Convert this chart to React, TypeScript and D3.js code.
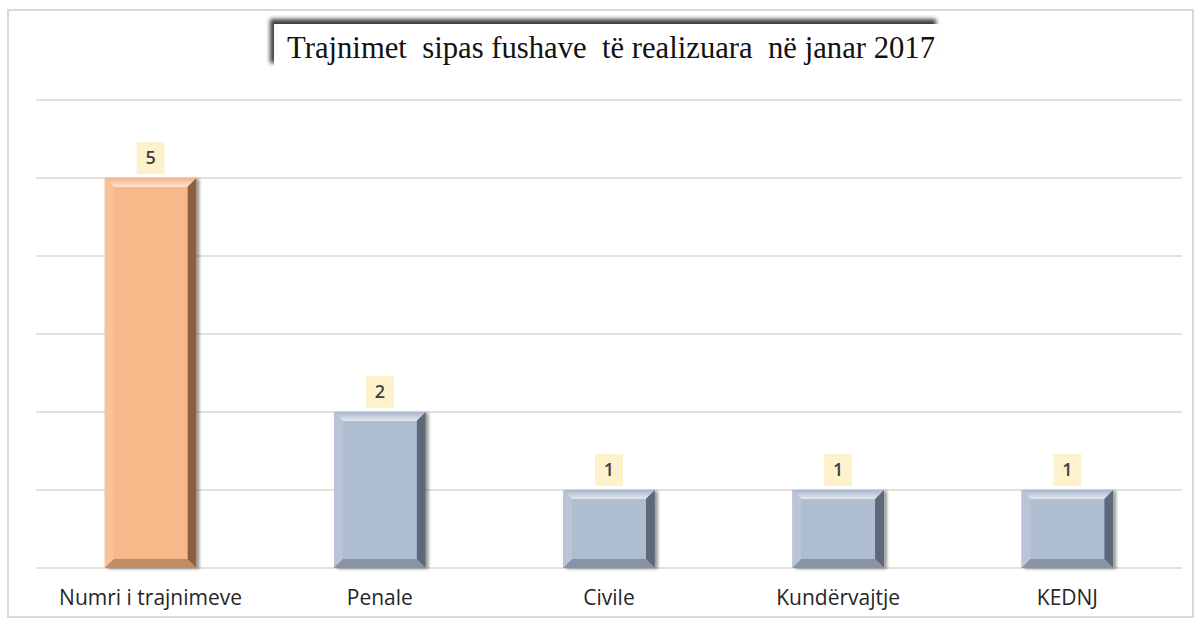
import React from "react";
import * as d3 from "d3";

const categories = ["Numri i trajnimeve", "Penale", "Civile", "Kundërvajtje", "KEDNJ"];
const values = [5, 2, 1, 1, 1];
const highlight = [true, false, false, false, false];
const yTicks = [0, 1, 2, 3, 4, 5, 6];
const title = "Trajnimet  sipas fushave  të realizuara  në janar 2017";

const W = 1196;
const H = 620;

export default function App() {
  const x = d3.scaleBand<string>().domain(categories).range([36, 1182]).paddingInner(0.6).paddingOuter(0.3);
  const y = d3.scaleLinear().domain([0, 6]).range([568, 100]);
  const bw = x.bandwidth();
  const bev = 9;

  return (
    <div style={{ position: "absolute", left: 0, top: 0, width: W, height: H, overflow: "hidden" }}>
      <svg width={W} height={H} style={{ display: "block", background: "#fff" }}>
        <defs>
          <filter id="tshadow" x="-10%" y="-50%" width="120%" height="200%">
            <feGaussianBlur in="SourceAlpha" stdDeviation="2" />
            <feOffset dx="-4" dy="-5" result="b" />
            <feComponentTransfer>
              <feFuncA type="linear" slope="0.75" />
            </feComponentTransfer>
            <feMerge>
              <feMergeNode />
              <feMergeNode in="SourceGraphic" />
            </feMerge>
          </filter>
          <filter id="bshadow" x="-20%" y="-20%" width="140%" height="140%">
            <feGaussianBlur in="SourceAlpha" stdDeviation="1.5" />
            <feOffset dx="3" dy="1" />
            <feComponentTransfer>
              <feFuncA type="linear" slope="0.4" />
            </feComponentTransfer>
            <feMerge>
              <feMergeNode />
              <feMergeNode in="SourceGraphic" />
            </feMerge>
          </filter>
          <linearGradient id="topO" x1="0" y1="0" x2="0" y2="1">
            <stop offset="0" stopColor="#f3b487" />
            <stop offset="1" stopColor="#fde3cd" />
          </linearGradient>
          <linearGradient id="topB" x1="0" y1="0" x2="0" y2="1">
            <stop offset="0" stopColor="#a9b6ca" />
            <stop offset="1" stopColor="#e3e9f1" />
          </linearGradient>
        </defs>
        <rect x={8} y={10} width={1185} height={607} fill="#fff" stroke="#d9d9d9" strokeWidth={2} />

        {yTicks.map((t) => (
          <line key={t} x1={36} x2={1182} y1={y(t)} y2={y(t)} stroke="#dcd6d2" strokeWidth={1.5} />
        ))}

        <g filter="url(#tshadow)">
          <rect x={274} y={24} width={666} height={44} fill="#fff" />
        </g>
        <text
          x={287}
          y={58}
          fontFamily="'Liberation Serif', 'DejaVu Serif', serif"
          fontSize={31}
          fill="#111"
          textLength={648}
          lengthAdjust="spacingAndGlyphs"
          style={{ whiteSpace: "pre" }}
        >
          {title}
        </text>

        {categories.map((c, i) => {
          const v = values[i];
          const x0 = x(c)!;
          const x1 = x0 + bw;
          const y0 = y(v);
          const y1 = y(0);
          const hi = highlight[i];
          const main = hi ? "#f8b98a" : "#afbdd1";
          const left = hi ? "#f9c299" : "#b9c5d7";
          const right = hi ? "#6e4a30" : "#4a5363";
          const bottom = hi ? "#b07c55" : "#7a8598";
          const cx = x0 + bw / 2;
          return (
            <g key={c}>
              <g filter="url(#bshadow)">
                <rect x={x0} y={y0} width={bw} height={y1 - y0} fill={main} />
              </g>
              <polygon points={`${x0},${y0} ${x1},${y0} ${x1 - bev},${y0 + bev} ${x0 + bev},${y0 + bev}`} fill={hi ? "url(#topO)" : "url(#topB)"} />
              <polygon points={`${x0},${y0} ${x0 + bev},${y0 + bev} ${x0 + bev},${y1 - bev} ${x0},${y1}`} fill={left} />
              <polygon points={`${x1},${y0} ${x1},${y1} ${x1 - bev},${y1 - bev} ${x1 - bev},${y0 + bev}`} fill={right} opacity={0.8} />
              <polygon points={`${x0},${y1} ${x1},${y1} ${x1 - bev},${y1 - bev} ${x0 + bev},${y1 - bev}`} fill={bottom} opacity={0.75} />
              <rect x={x0 + bev} y={y0 + bev} width={bw - 2 * bev} height={Math.max(0, y1 - y0 - 2 * bev)} fill={main} />
              <rect x={cx - 14} y={y0 - 36} width={28} height={32} fill="#fdf2cc" />
              <text x={cx} y={y0 - 14} textAnchor="middle" fontFamily="'Open Sans', 'Liberation Sans', sans-serif" fontSize={18} fontWeight={600} fill="#404040">
                {v}
              </text>
              <text x={cx} y={605} textAnchor="middle" fontFamily="'Open Sans', 'Liberation Sans', sans-serif" fontSize={21} fill="#262626">
                {c}
              </text>
            </g>
          );
        })}
      </svg>
    </div>
  );
}
